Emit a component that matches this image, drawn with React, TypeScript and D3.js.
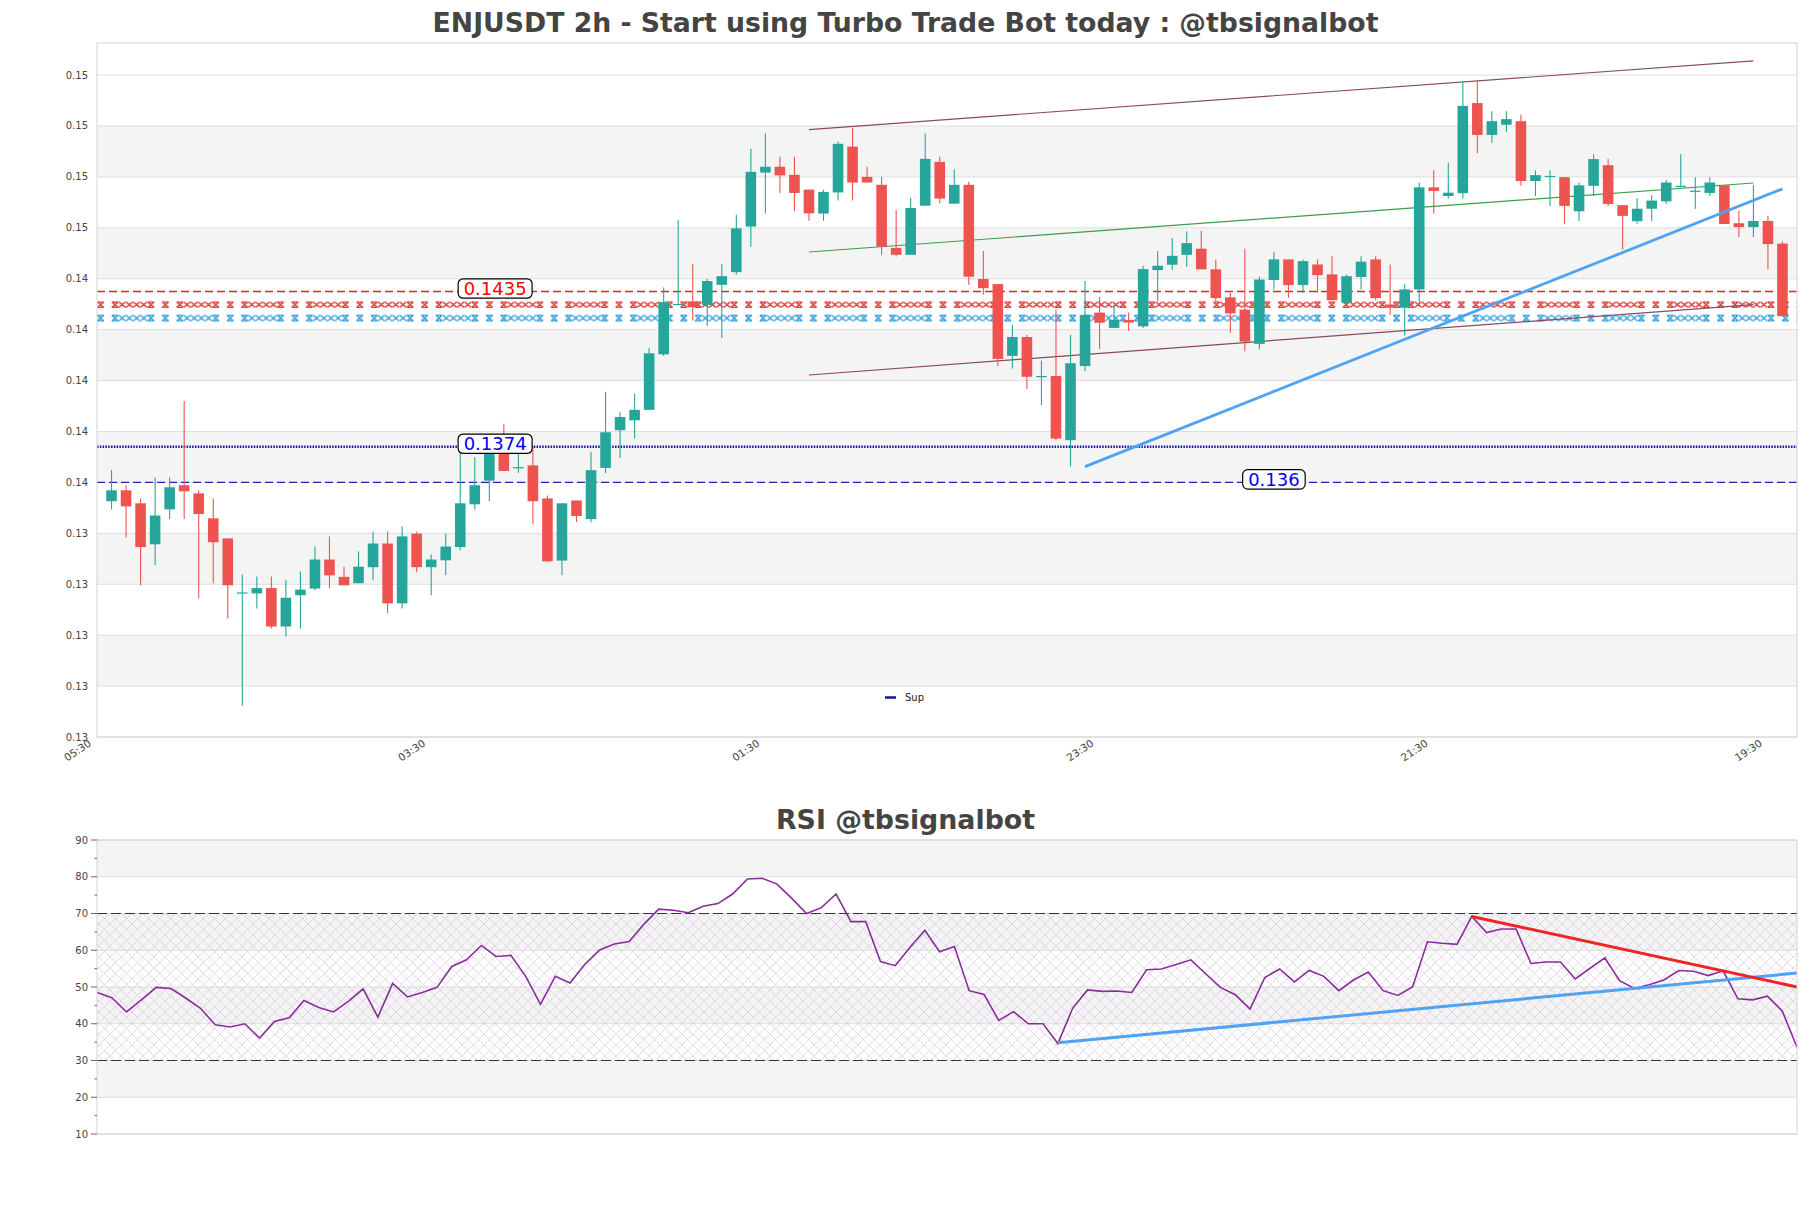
import React, { useEffect, useRef } from "react";
import * as d3 from "d3";

// candles, 2h
const opens = [
  0.13526, 0.13569, 0.13518, 0.13357, 0.13494, 0.13589, 0.13557, 0.13459, 0.1338, 0.13164,
  0.13164, 0.13185, 0.13034, 0.13157, 0.13183, 0.13297, 0.13229, 0.13204, 0.13267, 0.1336,
  0.13125, 0.13399, 0.13267, 0.13294, 0.13346, 0.13514, 0.13607, 0.13744, 0.13658, 0.13667,
  0.13537, 0.13293, 0.13529, 0.13456, 0.13657, 0.13805, 0.13844, 0.13885, 0.14103, 0.14297,
  0.14311, 0.14297, 0.14376, 0.14426, 0.14605, 0.14817, 0.1484, 0.14808, 0.1475, 0.14656,
  0.14739, 0.14919, 0.148, 0.14769, 0.14521, 0.14494, 0.14687, 0.14859, 0.14695, 0.14769,
  0.14399, 0.14379, 0.14097, 0.14171, 0.14015, 0.14018, 0.13766, 0.14057, 0.14267, 0.14207,
  0.14238, 0.14213, 0.14434, 0.14455, 0.14494, 0.14518, 0.14437, 0.14327, 0.14279, 0.14144,
  0.14395, 0.14476, 0.14375, 0.14456, 0.14417, 0.14306, 0.14407, 0.14476, 0.14299, 0.14286,
  0.14358, 0.14759, 0.14725, 0.14736, 0.1509, 0.14965, 0.15005, 0.15019, 0.14784, 0.14802,
  0.14799, 0.14665, 0.14765, 0.14846, 0.14689, 0.14626, 0.14675, 0.14704, 0.14763, 0.14745,
  0.14737, 0.14767, 0.14618, 0.14603, 0.14627, 0.14538,
];
const highs = [
  0.13649, 0.13589, 0.13537, 0.13619, 0.13619, 0.1392, 0.13569, 0.13537, 0.1338, 0.13238,
  0.1323, 0.1323, 0.13218, 0.1325, 0.13348, 0.13388, 0.13269, 0.13329, 0.13407, 0.13407,
  0.13427, 0.13407, 0.13317, 0.13399, 0.13776, 0.13699, 0.1377, 0.1383, 0.13717, 0.13744,
  0.13549, 0.13518, 0.13529, 0.13719, 0.13956, 0.13877, 0.13948, 0.14128, 0.14366, 0.14631,
  0.14459, 0.14399, 0.14459, 0.14651, 0.14911, 0.14971, 0.14879, 0.14879, 0.1475, 0.1475,
  0.1494, 0.14991, 0.1484, 0.148, 0.1467, 0.14718, 0.14971, 0.14879, 0.14829, 0.14781,
  0.14509, 0.14379, 0.14219, 0.14179, 0.14079, 0.14279, 0.14179, 0.14391, 0.14328, 0.14297,
  0.14267, 0.14451, 0.14509, 0.1456, 0.14586, 0.14588, 0.14476, 0.14345, 0.14518, 0.14408,
  0.14506, 0.14476, 0.14476, 0.14476, 0.14488, 0.14417, 0.14488, 0.14488, 0.14456, 0.14378,
  0.14778, 0.14826, 0.14856, 0.15174, 0.15178, 0.15058, 0.15058, 0.15045, 0.14826, 0.14826,
  0.14799, 0.14778, 0.14889, 0.1487, 0.14689, 0.14715, 0.14728, 0.14788, 0.14889, 0.14799,
  0.14799, 0.14767, 0.14668, 0.14767, 0.14647, 0.14547,
];
const lows = [
  0.13494, 0.13385, 0.13196, 0.13275, 0.13456, 0.13456, 0.13145, 0.13204, 0.13066, 0.12723,
  0.13105, 0.13026, 0.12995, 0.13026, 0.13176, 0.13184, 0.13196, 0.13204, 0.13216, 0.13086,
  0.13105, 0.13247, 0.13157, 0.13235, 0.13334, 0.13494, 0.13526, 0.13645, 0.13638, 0.13436,
  0.13287, 0.13235, 0.13444, 0.13444, 0.13637, 0.13696, 0.13773, 0.13885, 0.14097, 0.14297,
  0.14236, 0.14215, 0.14167, 0.14416, 0.14526, 0.14656, 0.14737, 0.14666, 0.14628, 0.14628,
  0.14707, 0.14707, 0.14778, 0.14494, 0.14487, 0.14494, 0.14687, 0.14697, 0.14695, 0.14376,
  0.14337, 0.14057, 0.14047, 0.13968, 0.13903, 0.13766, 0.13663, 0.14037, 0.14124, 0.14207,
  0.14195, 0.14207, 0.14311, 0.14434, 0.14447, 0.14437, 0.14312, 0.14188, 0.14115, 0.14122,
  0.14358, 0.14325, 0.14345, 0.14345, 0.14316, 0.14299, 0.14358, 0.14316, 0.14258, 0.14177,
  0.14299, 0.14656, 0.14715, 0.14715, 0.14893, 0.14934, 0.14977, 0.14765, 0.14725, 0.14686,
  0.14614, 0.14627, 0.14725, 0.14686, 0.14515, 0.14616, 0.14626, 0.14694, 0.14759, 0.14675,
  0.14725, 0.14615, 0.14564, 0.14564, 0.14437, 0.14253,
];
const closes = [
  0.13569, 0.13506, 0.13346, 0.1347, 0.13581, 0.13565, 0.13476, 0.13365, 0.13196, 0.13168,
  0.13185, 0.13034, 0.13147, 0.13179, 0.13297, 0.13235, 0.13196, 0.13269, 0.1336, 0.13125,
  0.13388, 0.13267, 0.13297, 0.13348, 0.13518, 0.13589, 0.1373, 0.13645, 0.1366, 0.13526,
  0.1329, 0.13518, 0.13468, 0.13648, 0.13797, 0.13857, 0.13885, 0.14107, 0.14308, 0.14301,
  0.14288, 0.14391, 0.1441, 0.14598, 0.1482, 0.1484, 0.14806, 0.14737, 0.14657, 0.14741,
  0.1493, 0.14778, 0.14778, 0.14526, 0.14494, 0.14678, 0.14871, 0.14715, 0.14769, 0.14408,
  0.14363, 0.14085, 0.14171, 0.14015, 0.14018, 0.13772, 0.14068, 0.14258, 0.14227, 0.14238,
  0.14228, 0.14438, 0.14451, 0.1449, 0.1454, 0.14437, 0.14324, 0.14264, 0.14153, 0.14397,
  0.14476, 0.14375, 0.14469, 0.14414, 0.14316, 0.1441, 0.14467, 0.14324, 0.14286, 0.14358,
  0.14759, 0.14745, 0.14738, 0.15079, 0.14965, 0.15019, 0.15027, 0.14784, 0.14807, 0.14804,
  0.14686, 0.14767, 0.1487, 0.14694, 0.14647, 0.14675, 0.14707, 0.14778, 0.14765, 0.14746,
  0.14778, 0.14615, 0.14603, 0.14627, 0.14536, 0.14253,
];

const rsiValues = [
  48.5, 47.1, 43.2, 46.5, 49.9, 49.6, 47.0, 44.2, 39.7, 39.1,
  40.0, 36.1, 40.6, 41.6, 46.3, 44.4, 43.2, 46.1, 49.5, 41.8,
  51.0, 47.3, 48.5, 49.9, 55.6, 57.4, 61.3, 58.3, 58.6, 52.9,
  45.3, 52.9, 51.1, 56.2, 60.1, 61.7, 62.4, 67.1, 71.2, 70.9,
  70.2, 72.0, 72.7, 75.3, 79.4, 79.6, 78.0, 74.1, 70.0, 71.6,
  75.3, 67.8, 67.8, 56.9, 55.8, 60.8, 65.4, 59.6, 61.0, 49.0,
  48.0, 40.9, 43.3, 40.0, 40.0, 34.6, 44.2, 49.2, 48.8, 48.9,
  48.5, 54.7, 54.9, 56.1, 57.4, 53.6, 49.9, 47.9, 44.0, 52.6,
  54.9, 51.4, 54.5, 52.9, 49.0, 51.9, 54.1, 49.0, 47.7, 50.1,
  62.3, 61.9, 61.6, 69.2, 64.8, 65.8, 65.8, 56.4, 56.8, 56.8,
  52.2, 55.1, 57.9, 51.7, 49.6, 50.6, 51.9, 54.5, 54.3, 53.1,
  54.4, 46.8, 46.5, 47.5, 43.5, 33.6,
];

const priceTicks = [
  0.126, 0.128, 0.13, 0.132, 0.134, 0.136, 0.138, 0.14, 0.142, 0.144, 0.146, 0.148, 0.15, 0.152,
];
const rsiTicks = [10, 20, 30, 40, 50, 60, 70, 80, 90];
const rsiMinorTicks = [15, 25, 35, 45, 55, 65, 75, 85];
const xTickIdx = [-1, 22, 45, 68, 91, 114];
const xTickLabels = ["05:30", "03:30", "01:30", "23:30", "21:30", "19:30"];

// horizontal levels and their tag positions (candle index)
const resistance = 0.1435;
const support = 0.1374;
const lowerSupport = 0.136;
const levelTagIdx = [26.4, 26.4, 80];
const redZone = [0.14285, 0.14311];
const blueZone = [0.14232, 0.14259];

// [index, price] end points
const channelTop = [[48, 0.14986], [113, 0.15256]];
const channelMid = [[48, 0.14505], [113, 0.14776]];
const channelBottom = [[48, 0.14022], [113, 0.14298]];
const riseLine = [[67, 0.13662], [115, 0.14753]];
// [index, rsi]
const rsiDownLine = [[93, 69.2], [115, 50.0]];
const rsiUpLine = [[65, 34.8], [115, 53.8]];

const FONT = "DejaVu Sans, sans-serif";

const App = () => {
  const ref = useRef<SVGSVGElement>(null);

  useEffect(() => {
    const svg = d3.select(ref.current);
    svg.selectAll("*").remove();

    const left = 97, right = 1797;
    const x = d3.scaleLinear().domain([-1, 116]).range([left, right]);
    const y = d3.scaleLinear().domain([0.126, 0.15326]).range([737, 43]);
    const step = x(1) - x(0);
    const bodyW = step * 0.73;

    const defs = svg.append("defs");
    // hatch like "X XDOOCX " repeated along the zone
    const zonePattern = (id, color, y0, h) => {
      const c = 7.2;
      const p = defs.append("pattern").attr("id", id).attr("patternUnits", "userSpaceOnUse")
        .attr("x", left).attr("y", y0).attr("width", c * 9).attr("height", h);
      let d = "";
      [0, 2, 3, 4, 5, 6, 7].forEach((k) => {
        const a = k * c + 0.3, b = (k + 1) * c - 0.3;
        d += `M${a},0.6L${b},${h - 0.6}M${a},${h - 0.6}L${b},0.6`;
      });
      [0, 2, 7].forEach((k) => {
        const a = k * c + 0.8, b = (k + 1) * c - 0.8;
        d += `M${a},0.6H${b}M${a},${h - 0.6}H${b}`;
      });
      p.append("path").attr("d", d).attr("stroke", color).attr("stroke-width", 1.3).attr("fill", "none");
    };

    svg.append("text").attr("x", 905.5).attr("y", 32).attr("text-anchor", "middle")
      .attr("font-family", FONT).attr("font-weight", "bold").attr("font-size", 26.7)
      .attr("fill", "#444").text("ENJUSDT 2h - Start using Turbo Trade Bot today : @tbsignalbot");

    const main = svg.append("g");
    main.append("rect").attr("x", left).attr("y", 43).attr("width", right - left).attr("height", 694).attr("fill", "#fff");
    for (let i = 0; i < priceTicks.length - 1; i++) {
      if (i % 2 === 0) continue;
      main.append("rect").attr("x", left).attr("width", right - left)
        .attr("y", y(priceTicks[i + 1])).attr("height", y(priceTicks[i]) - y(priceTicks[i + 1]))
        .attr("fill", "#f4f4f4");
    }
    main.selectAll(".grid").data(priceTicks).enter().append("line")
      .attr("x1", left).attr("x2", right).attr("y1", (d) => y(d)).attr("y2", (d) => y(d))
      .attr("stroke", "#dedede").attr("stroke-width", 1);
    main.selectAll(".ylab").data(priceTicks).enter().append("text")
      .attr("x", 88).attr("y", (d) => y(d)).attr("text-anchor", "end").attr("dominant-baseline", "central")
      .attr("font-family", FONT).attr("font-size", 10).attr("fill", "#444").text((d) => d3.format(".2f")(d));
    xTickIdx.forEach((t, i) => {
      main.append("text").attr("transform", `translate(${x(t) - 5},745) rotate(-34)`)
        .attr("text-anchor", "end").attr("font-family", FONT).attr("font-size", 10.4).attr("fill", "#444")
        .text(xTickLabels[i]);
    });

    // hatched zones
    [[redZone, "#e23b3b", "zr"], [blueZone, "#2b9be0", "zb"]].forEach(([z, c, id]: any) => {
      const y0 = y(z[1]), h = y(z[0]) - y(z[1]);
      zonePattern(id, c, y0, h);
      main.append("rect").attr("x", left).attr("width", right - left).attr("y", y0).attr("height", h)
        .attr("fill", `url(#${id})`);
    });

    const hline = (v, color, dash, w) =>
      main.append("line").attr("x1", left).attr("x2", right).attr("y1", y(v)).attr("y2", y(v))
        .attr("stroke", color).attr("stroke-width", w).attr("stroke-dasharray", dash);
    hline(resistance, "#e02424", "8,4", 1.4);
    hline(support, "#1414a6", "1.5,1.3", 2.6);
    hline(lowerSupport, "#2424b0", "8,4", 1.3);

    const line = d3.line().x((d) => x(d[0])).y((d) => y(d[1]));
    main.append("path").attr("d", line(channelTop as any)).attr("stroke", "#8a4a5c").attr("stroke-width", 1.2).attr("fill", "none");
    main.append("path").attr("d", line(channelBottom as any)).attr("stroke", "#8a4a5c").attr("stroke-width", 1.2).attr("fill", "none");
    main.append("path").attr("d", line(channelMid as any)).attr("stroke", "#3a9e4a").attr("stroke-width", 1.2).attr("fill", "none");

    const candles = d3.range(opens.length).map((i) => ({ i, o: opens[i], h: highs[i], l: lows[i], c: closes[i] }));
    const col = (d) => (d.c >= d.o ? "#26a69a" : "#ef5350");
    const cg = main.selectAll(".candle").data(candles).enter().append("g");
    cg.append("line").attr("x1", (d) => x(d.i)).attr("x2", (d) => x(d.i))
      .attr("y1", (d) => y(d.h)).attr("y2", (d) => y(d.l)).attr("stroke", col).attr("stroke-width", 1.1);
    cg.append("rect").attr("x", (d) => x(d.i) - bodyW / 2).attr("width", bodyW)
      .attr("y", (d) => y(Math.max(d.o, d.c)))
      .attr("height", (d) => Math.max(1.2, Math.abs(y(d.o) - y(d.c))))
      .attr("fill", col);

    main.append("path").attr("d", line(riseLine as any)).attr("stroke", "#4fa3f2").attr("stroke-width", 2.8).attr("fill", "none");

    const tag = (v, idx, label, color) => {
      const cx = x(idx), cy = y(v) - 3;
      const t = main.append("text").attr("x", cx).attr("y", cy).attr("text-anchor", "middle")
        .attr("dominant-baseline", "central").attr("font-family", FONT).attr("font-size", 18)
        .attr("fill", color).text(label);
      const bb = (t.node() as SVGTextElement).getBBox();
      main.insert("rect", () => t.node()).attr("x", bb.x - 5.5).attr("y", cy - 9.7).attr("width", bb.width + 11).attr("height", 19.4)
        .attr("rx", 5).attr("fill", "#fff").attr("stroke", "#000").attr("stroke-width", 1.2);
    };
    tag(resistance, levelTagIdx[0], "0.1435", "#ff0000");
    tag(support, levelTagIdx[1], "0.1374", "#0000ee");
    tag(lowerSupport, levelTagIdx[2], "0.136", "#0000ee");

    main.append("line").attr("x1", 885).attr("x2", 896).attr("y1", 697.5).attr("y2", 697.5)
      .attr("stroke", "#1414a6").attr("stroke-width", 2.5);
    main.append("text").attr("x", 905).attr("y", 697).attr("dominant-baseline", "central")
      .attr("font-family", FONT).attr("font-size", 10).attr("fill", "#222").text("Sup");

    main.append("rect").attr("x", left).attr("y", 43).attr("width", right - left).attr("height", 694)
      .attr("fill", "none").attr("stroke", "#d4d4d4").attr("stroke-width", 1);

    // RSI panel
    svg.append("text").attr("x", 905.5).attr("y", 829).attr("text-anchor", "middle")
      .attr("font-family", FONT).attr("font-weight", "bold").attr("font-size", 26.8)
      .attr("fill", "#444").text("RSI @tbsignalbot");

    const rx = d3.scaleLinear().domain([0, rsiValues.length - 1]).range([left, right]);
    const ry = d3.scaleLinear().domain([10, 90]).range([1134, 840]);
    const rg = svg.append("g");
    for (let i = 0; i < rsiTicks.length - 1; i++) {
      if (i % 2 === 0) continue;
      rg.append("rect").attr("x", left).attr("width", right - left)
        .attr("y", ry(rsiTicks[i + 1])).attr("height", ry(rsiTicks[i]) - ry(rsiTicks[i + 1]))
        .attr("fill", "#f4f4f4");
    }
    rg.selectAll(".rgrid").data(rsiTicks).enter().append("line")
      .attr("x1", left).attr("x2", right).attr("y1", (d) => ry(d)).attr("y2", (d) => ry(d))
      .attr("stroke", "#dedede");

    const hp = defs.append("pattern").attr("id", "rsiHatch").attr("patternUnits", "userSpaceOnUse")
      .attr("width", 11).attr("height", 11);
    hp.append("path").attr("d", "M0,0L11,11M0,11L11,0").attr("stroke", "#c7b3d2").attr("stroke-width", 0.6).attr("fill", "none");
    rg.append("rect").attr("x", left).attr("width", right - left).attr("y", ry(70)).attr("height", ry(30) - ry(70))
      .attr("fill", "url(#rsiHatch)").attr("opacity", 0.8);
    [70, 30].forEach((v) => {
      rg.append("line").attr("x1", left).attr("x2", right).attr("y1", ry(v)).attr("y2", ry(v))
        .attr("stroke", "#333").attr("stroke-width", 1.2).attr("stroke-dasharray", "10,4");
    });

    const rline = d3.line().x((d) => rx(d[0])).y((d) => ry(d[1]));
    rg.append("path").attr("d", rline(rsiValues.map((v, i) => [i, v]) as any))
      .attr("stroke", "#8b2c9c").attr("stroke-width", 1.6).attr("fill", "none");
    rg.append("path").attr("d", rline(rsiUpLine as any)).attr("stroke", "#4fa3f2").attr("stroke-width", 3).attr("fill", "none");
    rg.append("path").attr("d", rline(rsiDownLine as any)).attr("stroke", "#f02424").attr("stroke-width", 3).attr("fill", "none");

    rg.append("rect").attr("x", left).attr("y", 840).attr("width", right - left).attr("height", 294)
      .attr("fill", "none").attr("stroke", "#d4d4d4");
    rg.selectAll(".rtick").data(rsiTicks).enter().append("line")
      .attr("x1", left - 6).attr("x2", left).attr("y1", (d) => ry(d)).attr("y2", (d) => ry(d)).attr("stroke", "#666");
    rg.selectAll(".rmtick").data(rsiMinorTicks).enter().append("line")
      .attr("x1", left - 2.5).attr("x2", left).attr("y1", (d) => ry(d)).attr("y2", (d) => ry(d)).attr("stroke", "#666");
    rg.selectAll(".rlab").data(rsiTicks).enter().append("text")
      .attr("x", 88).attr("y", (d) => ry(d)).attr("text-anchor", "end").attr("dominant-baseline", "central")
      .attr("font-family", FONT).attr("font-size", 10).attr("fill", "#444").text((d) => d);
  }, []);

  return (
    <div style={{ position: "absolute", left: 0, top: 0, background: "#fff" }}>
      <svg ref={ref} width={1811} height={1208} style={{ display: "block" }} />
    </div>
  );
};

export default App;
